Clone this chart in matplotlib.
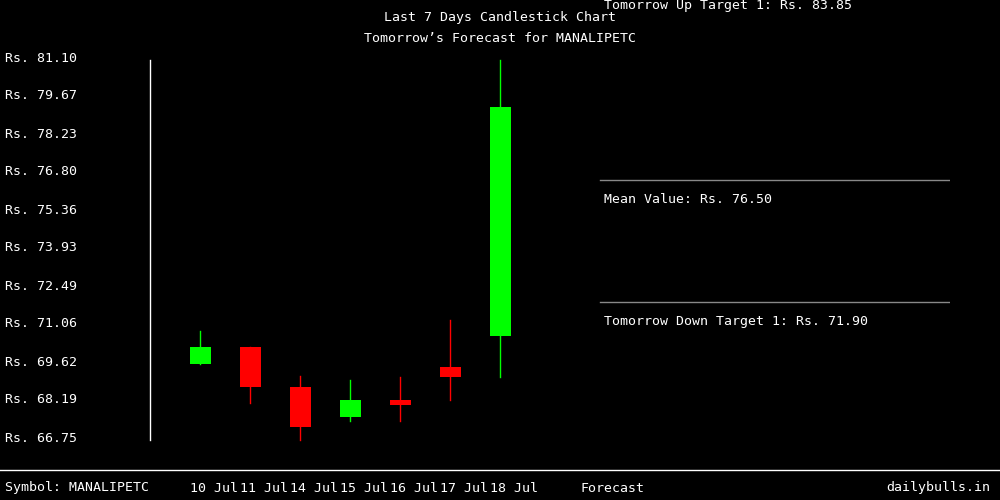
import matplotlib
matplotlib.use("Agg")
import matplotlib.pyplot as plt

dates = ["10 Jul", "11 Jul", "14 Jul", "15 Jul", "16 Jul", "17 Jul", "18 Jul"]
opens = [69.54, 70.19, 68.68, 67.54, 68.18, 69.43, 70.60]
closes = [70.19, 68.68, 67.17, 68.18, 68.00, 69.05, 79.25]
highs = [70.79, 70.19, 69.09, 68.94, 69.05, 71.21, 81.02]
lows = [69.54, 68.07, 66.67, 67.39, 67.39, 68.18, 69.05]
yticks = [66.75, 68.19, 69.62, 71.06, 72.49, 73.93, 75.36, 76.80, 78.23, 79.67, 81.10]
up_target = 83.85
mean_value = 76.50
down_target = 71.90
symbol = "MANALIPETC"

plt.rcParams['font.family'] = ['DejaVu Sans Mono']
FS = 9.5
fig = plt.figure(figsize=(10, 5), dpi=100, facecolor="black")
ax = fig.add_axes([0.15, 0.124, 0.8, 0.76], facecolor="black")
ax.set_xlim(-1, 15)
ax.set_ylim(66.75, 81.10)
for s in ax.spines.values():
    s.set_visible(False)
ax.set_xticks([]); ax.set_yticks([])
ax.plot([-1, -1], [66.67, 81.02], color="white", lw=1, clip_on=False)

for i, (o, c, h, l) in enumerate(zip(opens, closes, highs, lows)):
    col = "#00ff00" if c >= o else "#ff0000"
    ax.plot([i, i], [l, h], color=col, lw=1, clip_on=False)
    ax.bar(i, abs(c - o), bottom=min(o, c), width=0.42, color=col, clip_on=False)

for v in (mean_value, down_target):
    ax.plot([8, 15], [v, v], color="#888888", lw=1)

for v in yticks:
    fig.text(0.005, ax.transData.transform((0, v))[1] / 500, f"Rs. {v:.2f}",
             color="white", fontsize=FS, va="center", ha="left")

ax.text(8.08, mean_value - 0.5, f"Mean Value: Rs. {mean_value:.2f}", color="white", fontsize=FS, va="top")
ax.text(8.08, down_target - 0.5, f"Tomorrow Down Target 1: Rs. {down_target:.2f}", color="white", fontsize=FS, va="top")
fig.text(0.604, 1 - 6 / 500, f"Tomorrow Up Target 1: Rs. {up_target:.2f}", color="white", fontsize=FS, va="center")

fig.text(0.5, 1 - 18 / 500, "Last 7 Days Candlestick Chart", color="white", fontsize=FS, ha="center", va="center")
fig.text(0.5, 1 - 38 / 500, f"Tomorrow’s Forecast for {symbol}", color="white", fontsize=FS, ha="center", va="center")

fig.add_artist(plt.Line2D([0, 1], [1 - 470 / 500] * 2, color="white", lw=1))
fig.text(0.005, 1 - 488 / 500, f"Symbol: {symbol}", color="white", fontsize=FS, va="center")
for i, d in enumerate(dates):
    fig.text((190 + 50 * i) / 1000, 1 - 488 / 500, d, color="white", fontsize=FS, va="center")
fig.text(0.58, 1 - 488 / 500, "Forecast", color="white", fontsize=FS, va="center")
fig.text(0.99, 1 - 488 / 500, "dailybulls.in", color="white", fontsize=FS, va="center", ha="right")

fig.savefig("out.png", facecolor="black")
